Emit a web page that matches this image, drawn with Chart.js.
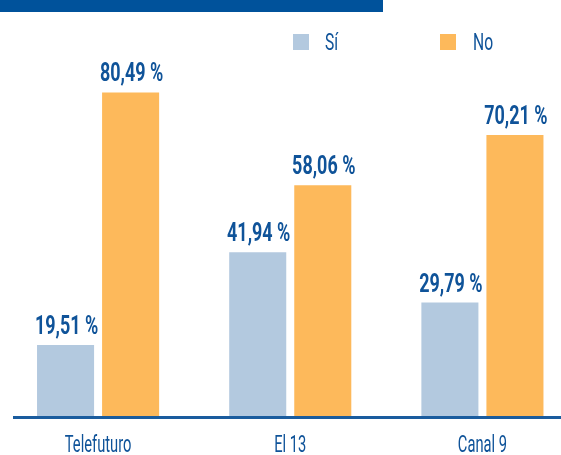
<!DOCTYPE html>
<html>
<head>
<meta charset="utf-8">
<script src="https://cdn.jsdelivr.net/npm/chart.js@4"></script>
<style>
  html, body { margin: 0; padding: 0; background: #fff; overflow: hidden; }
  #wrap { position: absolute; left: 0; top: 0; width: 580px; height: 455px; }
</style>
</head>
<body>
<div id="wrap"><canvas id="c"></canvas></div>
<script>
const categories = ["Telefuturo", "El 13", "Canal 9"];
const siValues = [19.51, 41.94, 29.79];
const noValues = [80.49, 58.06, 70.21];
const seriesNames = ["Sí", "No"];

const BLUE = "#0F5399";
const FONT = "Roboto, 'Liberation Sans', sans-serif";

// the original type is a very narrow face, so text gets squeezed sideways
function narrowText(ctx, txt, x, y, sx, align) {
    ctx.save();
    ctx.translate(x, y);
    ctx.scale(sx, 1);
    ctx.textAlign = align;
    ctx.fillText(txt, 0, 0);
    ctx.restore();
}

const decor = {
    id: 'decor',
    beforeDraw(chart) {
        const ctx = chart.ctx;
        ctx.save();
        ctx.fillStyle = "#00529B";
        ctx.fillRect(0, 0, 383, 12);
        ctx.restore();
    },
    afterDatasetsDraw(chart) {
        const ctx = chart.ctx;
        const bottom = chart.chartArea.bottom;
        ctx.save();
        // axis line
        ctx.strokeStyle = "#1A5C9E";
        ctx.lineWidth = 3;
        ctx.beginPath();
        ctx.moveTo(13, bottom + 1.5);
        ctx.lineTo(561, bottom + 1.5);
        ctx.stroke();

        ctx.fillStyle = BLUE;
        ctx.textBaseline = "alphabetic";

        // value labels
        ctx.font = "bold 26px " + FONT;
        chart.data.datasets.forEach((ds, i) => {
            chart.getDatasetMeta(i).data.forEach((bar, j) => {
                const txt = ds.data[j].toFixed(2).replace('.', ',') + ' %';
                narrowText(ctx, txt, bar.x + 1, bar.y - 11, 0.69, 'center');
            });
        });

        // category labels, placed by the x scale
        const xs = chart.scales.x;
        ctx.font = "23px " + FONT;
        chart.data.labels.forEach((lab, i) => {
            narrowText(ctx, lab, xs.getPixelForTick(i), 451.5, 0.64, 'center');
        });

        // legend
        const items = [[293, 325], [440, 473]];
        ctx.font = "23px " + FONT;
        chart.data.datasets.forEach((ds, i) => {
            ctx.fillStyle = ds.backgroundColor;
            ctx.fillRect(items[i][0], 34, 16, 16);
            ctx.fillStyle = BLUE;
            narrowText(ctx, ds.label, items[i][1], 50, 0.68, 'left');
        });
        ctx.restore();
    }
};

new Chart(document.getElementById('c').getContext('2d'), {
    type: 'bar',
    data: {
        labels: categories,
        datasets: [
            {
                label: seriesNames[0],
                data: siValues,
                backgroundColor: "#B3C9DF",
            },
            {
                label: seriesNames[1],
                data: noValues,
                backgroundColor: "#FDB95B",
            }
        ]
    },
    options: {
        responsive: true,
        maintainAspectRatio: false,
        animation: false,
        categoryPercentage: 0.677,
        barPercentage: 0.877,
        layout: { padding: { left: 2, right: 1.5, top: 53, bottom: 0 } },
        plugins: {
            legend: { display: false },
            title: { display: false },
            tooltip: { enabled: false }
        },
        scales: {
            y: {
                display: false,
                min: 2.4,
                max: 90
            },
            x: {
                grid: { display: false, drawTicks: false },
                border: { display: false },
                ticks: { display: false },
                afterFit(scale) { scale.height = 39; }
            }
        }
    },
    plugins: [decor]
});
</script>
</body>
</html>
